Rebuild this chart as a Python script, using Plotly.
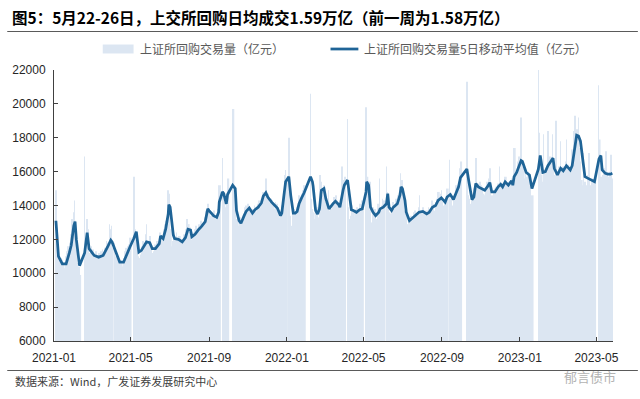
import pandas as pd
import plotly.graph_objects as go

# ---------------- data ----------------
holidays = [
    "2021-01-01", "2021-02-11", "2021-02-12", "2021-02-15", "2021-02-16", "2021-02-17",
    "2021-04-05", "2021-05-03", "2021-05-04", "2021-05-05", "2021-06-14",
    "2021-09-20", "2021-09-21", "2021-10-01", "2021-10-04", "2021-10-05", "2021-10-06", "2021-10-07",
    "2022-01-03", "2022-01-31", "2022-02-01", "2022-02-02", "2022-02-03", "2022-02-04",
    "2022-04-04", "2022-04-05", "2022-05-02", "2022-05-03", "2022-05-04", "2022-06-03",
    "2022-09-12", "2022-10-03", "2022-10-04", "2022-10-05", "2022-10-06", "2022-10-07",
    "2023-01-02", "2023-01-23", "2023-01-24", "2023-01-25", "2023-01-26", "2023-01-27",
    "2023-04-05", "2023-05-01", "2023-05-02", "2023-05-03",
]

# daily volume (亿元), one list per month
vol_2021_01 = [14900, 12000, 11300, 10600, 10900, 10200, 10900, 10400, 10800, 10500,
               10300, 11000, 10700, 11300, 11600, 11800, 11200, 12300, 12100, 13200]
vol_2021_02 = [13600, 14300, 13100, 11400, 10600, 10200, 10400, 9900, 16900, 11800,
               13200, 12600, 10800, 10900, 11200]
vol_2021_03 = [11600, 10900, 11400, 10800, 11100, 11300, 10700, 11000, 10600, 11200,
               10800, 11300, 10900, 11400, 11000, 11500, 11200, 11900, 11400, 11800,
               12900, 11700, 12600]
vol_2021_04 = [12800, 11500, 11800, 11000, 10700, 11100, 10500, 10900, 10300, 10800,
               10600, 10400, 10900, 10700, 11300, 11500, 11100, 11600, 11200, 11700, 12100]
vol_2021_05 = [15700, 12600, 12200, 11600, 10800, 11000, 10900, 11100, 11600, 11300,
               11900, 11500, 11700, 12300, 12900, 11600, 11900, 12200]
vol_2021_06 = [11400, 11000, 11600, 11200, 11300, 11700, 11100, 11500, 11900, 11800,
               12400, 12300, 11900, 12100, 12600, 12200, 12900, 13100, 14200, 14900, 14700]
vol_2021_07 = [13800, 12600, 11600, 11900, 11400, 12300, 12000, 12400, 11800, 12100,
               11700, 12200, 11900, 11500, 12000, 11700, 12300, 12100, 12600, 13200,
               12800, 12900]
vol_2021_08 = [12700, 12200, 11900, 12000, 12400, 12300, 12600, 12100, 12800, 12500,
               12900, 12400, 12800, 13100, 12700, 13000, 12800, 13300, 13100, 13700,
               14100, 14000]
vol_2021_09 = [13800, 13200, 13400, 13100, 13600, 13300, 13700, 13200, 13400, 13100,
               13800, 14300, 15200, 16800, 14700, 14200, 13700, 13900, 14100, 15600]
vol_2021_10 = [19700, 14600, 13900, 12700, 12900, 13200, 12800, 13300, 12600, 13100,
               13000, 13500, 13200, 13900, 13400, 14000]
vol_2021_11 = [14100, 13700, 13900, 13400, 13800, 13500, 13800, 13400, 14000, 13700,
               13600, 14100, 13800, 14300, 13900, 14200, 13900, 14600, 14800, 14500,
               15600, 14900]
vol_2021_12 = [14300, 14700, 14200, 14000, 14400, 13900, 14300, 14100, 13800, 14200,
               13700, 14100, 13600, 13300, 13100, 13700, 13400, 14000, 14700, 15200,
               15800, 16100, 15600]
vol_2022_01 = [18000, 14500, 13400, 12800, 13200, 13700, 13300, 13800, 13600, 13900,
               13500, 14200, 14600, 14300, 14700, 14300, 14900, 14600, 15200]
vol_2022_02 = [20600, 14400, 13800, 13300, 13600, 13200, 13700, 13400, 13900, 13300,
               14100, 15800, 15400, 15300, 14600, 15200]
vol_2022_03 = [14700, 14200, 14000, 14100, 14900, 13500, 13200, 13700, 13800, 14200,
               13900, 14500, 14100, 14600, 14300, 13800, 14200, 13600, 13900, 16300,
               14600, 15200, 15500]
vol_2022_04 = [15700, 19100, 13900, 13200, 13400, 13800, 13500, 14000, 13600, 13300,
               13800, 13500, 13900, 13600, 13700, 14100, 13500, 14000, 14300]
vol_2022_05 = [19800, 15700, 14600, 13200, 15400, 13300, 13000, 13900, 13100, 13500,
               13800, 13200, 13600, 14100, 13400, 15600, 13900, 14000, 14400]
vol_2022_06 = [13800, 14300, 16300, 14800, 14200, 13400, 13600, 13500, 13900, 13700,
               14200, 13800, 14000, 14400, 13900, 14300, 14600, 15100, 15900, 15300, 15500]
vol_2022_07 = [14500, 13700, 13400, 13100, 13500, 12900, 13000, 13300, 12800, 13400,
               13200, 13100, 13600, 13300, 13700, 13500, 13400, 13900, 13600, 14600, 13700]
vol_2022_08 = [13500, 13900, 13600, 13400, 13700, 13300, 13700, 13500, 13900, 13600,
               13800, 14300, 13900, 14100, 13700, 14200, 13900, 14400, 14100, 14800,
               14300, 14700, 14900]
vol_2022_09 = [14200, 14000, 14300, 13900, 14400, 14600, 15000, 16700, 14200, 14400,
               14000, 14300, 14600, 14200, 14900, 15200, 15000, 15400, 15100, 16200, 16600]
vol_2022_10 = [21300, 15100, 14600, 14400, 14100, 14200, 14500, 14000, 14700, 15000,
               16800, 15100, 14900, 15300, 15000, 15400]
vol_2022_11 = [15200, 14800, 15100, 14700, 14600, 15000, 14800, 15300, 15400, 15600,
               16200, 14900, 14500, 14600, 14900, 14500, 15000, 14700, 15100, 15300,
               14900, 16300]
vol_2022_12 = [15400, 15100, 14900, 15300, 15000, 15600, 15700, 15200, 14900, 15400,
               15100, 15300, 15600, 15000, 15300, 15900, 17400, 15800, 16100, 15900,
               16600, 16900]
vol_2023_01 = [19200, 16300, 15900, 16200, 15600, 15900, 15400, 15700, 16000, 15500,
               15800, 14900, 14400, 14600, 22000, 17200]
vol_2023_02 = [18300, 16900, 15800, 15400, 18200, 15300, 15900, 15700, 16100, 18400,
               16000, 16300, 16900, 16500, 18200, 16700, 16100, 15800, 19000, 15900]
vol_2023_03 = [15600, 15900, 16300, 17800, 15700, 16100, 15900, 16300, 16000, 16600,
               17900, 16200, 16400, 15800, 16200, 16000, 16600, 17300, 18400, 19300,
               18700, 18300, 18500]
vol_2023_04 = [19200, 17400, 16600, 15500, 15200, 17100, 15000, 15400, 15200, 15800,
               15300, 17100, 15500, 15200, 15600, 15100, 15400, 15300, 15500]
vol_2023_05 = [21100, 17900, 15700, 15300, 15400, 15800, 16200, 15600, 17200, 15500,
               15900, 15700, 16000, 15600, 17000, 15300, 15600]

# 5-day moving average (亿元)
ma_dates = [
    "2021-01-04", "2021-01-05", "2021-01-08", "2021-01-14", "2021-01-20", "2021-01-25", "2021-01-28",
    "2021-02-01", "2021-02-03", "2021-02-05", "2021-02-10", "2021-02-18", "2021-02-22", "2021-02-25",
    "2021-03-05", "2021-03-12", "2021-03-19", "2021-03-26", "2021-03-31",
    "2021-04-02", "2021-04-09", "2021-04-14", "2021-04-20", "2021-04-26", "2021-04-28", "2021-04-30",
    "2021-05-06", "2021-05-10", "2021-05-14", "2021-05-18", "2021-05-26", "2021-05-31",
    "2021-06-04", "2021-06-09", "2021-06-15", "2021-06-17", "2021-06-21", "2021-06-25", "2021-06-29", "2021-06-30",
    "2021-07-02", "2021-07-07", "2021-07-09", "2021-07-15", "2021-07-21", "2021-07-26", "2021-07-30",
    "2021-08-03", "2021-08-05", "2021-08-10", "2021-08-16", "2021-08-20", "2021-08-26", "2021-08-30",
    "2021-09-01", "2021-09-08", "2021-09-13", "2021-09-16", "2021-09-17", "2021-09-22", "2021-09-24",
    "2021-09-28", "2021-09-30",
    "2021-10-08", "2021-10-12", "2021-10-14", "2021-10-18", "2021-10-21", "2021-10-26", "2021-10-29",
    "2021-11-03", "2021-11-08", "2021-11-12", "2021-11-17", "2021-11-22", "2021-11-25", "2021-11-29",
    "2021-12-02", "2021-12-08", "2021-12-13", "2021-12-17", "2021-12-22", "2021-12-24", "2021-12-27", "2021-12-30",
    "2022-01-04", "2022-01-05", "2022-01-07", "2022-01-11", "2022-01-14", "2022-01-17", "2022-01-20",
    "2022-01-24", "2022-01-28",
    "2022-02-07", "2022-02-10", "2022-02-11", "2022-02-15", "2022-02-18", "2022-02-21", "2022-02-24", "2022-02-28",
    "2022-03-03", "2022-03-08", "2022-03-14", "2022-03-18", "2022-03-23", "2022-03-25", "2022-03-30",
    "2022-04-01", "2022-04-06", "2022-04-08", "2022-04-12", "2022-04-15", "2022-04-20", "2022-04-25", "2022-04-29",
    "2022-05-05", "2022-05-06", "2022-05-09", "2022-05-12", "2022-05-16", "2022-05-20", "2022-05-25", "2022-05-27",
    "2022-06-01", "2022-06-06", "2022-06-08", "2022-06-10", "2022-06-14", "2022-06-17", "2022-06-23",
    "2022-06-27", "2022-06-29",
    "2022-07-01", "2022-07-05", "2022-07-07", "2022-07-12", "2022-07-18", "2022-07-22", "2022-07-27",
    "2022-08-02", "2022-08-08", "2022-08-12", "2022-08-17", "2022-08-22", "2022-08-26", "2022-08-31",
    "2022-09-06", "2022-09-09", "2022-09-14", "2022-09-19", "2022-09-23", "2022-09-27", "2022-09-30",
    "2022-10-10", "2022-10-13", "2022-10-18", "2022-10-21", "2022-10-24", "2022-10-28",
    "2022-11-02", "2022-11-07", "2022-11-11", "2022-11-15", "2022-11-18", "2022-11-23", "2022-11-28",
    "2022-12-02", "2022-12-05", "2022-12-09", "2022-12-14", "2022-12-19", "2022-12-21", "2022-12-23",
    "2022-12-27", "2022-12-30",
    "2023-01-03", "2023-01-05", "2023-01-09", "2023-01-11", "2023-01-16", "2023-01-19", "2023-01-20",
    "2023-01-30",
    "2023-02-02", "2023-02-06", "2023-02-10", "2023-02-14", "2023-02-17", "2023-02-22", "2023-02-24",
    "2023-03-01", "2023-03-06", "2023-03-10", "2023-03-15", "2023-03-21", "2023-03-24", "2023-03-28", "2023-03-31",
    "2023-04-03", "2023-04-06", "2023-04-10", "2023-04-13", "2023-04-18", "2023-04-24", "2023-04-28",
    "2023-05-05", "2023-05-08", "2023-05-10", "2023-05-15", "2023-05-19", "2023-05-23", "2023-05-26",
]
ma_values = [
    13100, 12400, 11000, 10550, 10550, 11200, 11650,
    12800, 13050, 12000, 10450, 11200, 12400, 11450,
    11050, 10950, 11050, 11550, 11950,
    11850, 11150, 10650, 10650, 11250, 11350, 11550,
    12050, 12450, 11250, 11350, 11850, 11800,
    11450, 11450, 11750, 12200, 12050, 12600, 13500, 14050,
    13900, 12250, 12050, 12000, 11850, 12100, 12600,
    12550, 12150, 12300, 12600, 12750, 13050, 13800,
    13700, 13400, 13300, 13600, 14200, 14800, 14700,
    14100, 14650,
    15200, 15000, 13700, 13100, 12950, 13400, 13650,
    13850, 13550, 13750, 13900, 14150, 14550, 14750,
    14500, 14200, 14000, 13850, 13400, 13550, 14500, 15400,
    15700, 15200, 14600, 13550, 13550, 13650, 14100,
    14450, 14750,
    15700, 15400, 15150, 13700, 13500, 13800, 14900, 15000,
    14400, 13800, 14100, 14250, 14050, 13900, 14900,
    15200, 15500, 15000, 13750, 13700, 13600, 13750, 13800,
    14800, 15400, 15200, 13900, 13600, 13400, 13600, 13800,
    13900, 14100, 14700, 13900, 13700, 13900, 14100,
    14600, 15100,
    15000, 14300, 13600, 13100, 13300, 13400, 13600,
    13650, 13500, 13600, 13900, 14000, 14300, 14450,
    14200, 14500, 14650, 14350, 14700, 15100, 15650,
    16150, 15450, 14350, 14500, 15300, 15100,
    15000, 14900, 15100, 15350, 14800, 14800, 15100,
    15250, 15100, 15400, 15200, 15450, 15200, 15700,
    15950, 16300,
    16650, 16600, 16200, 15950, 15800, 15200, 15000,
    16150,
    16950, 15950, 16000, 16350, 16550, 16800, 16200,
    15800, 16200, 16050, 16350, 16100, 16350, 17550, 18150,
    18100, 17800, 16600, 15700, 15600, 15500, 15400,
    16750, 16950, 16100, 15900, 15850, 15850, 15900,
]

x_tick_dates = ["2021-01-01", "2021-05-01", "2021-09-01", "2022-01-01",
                "2022-05-01", "2022-09-01", "2023-01-01", "2023-05-01"]
x_tick_labels = ["2021-01", "2021-05", "2021-09", "2022-01",
                 "2022-05", "2022-09", "2023-01", "2023-05"]
y_ticks = [6000, 8000, 10000, 12000, 14000, 16000, 18000, 20000, 22000]

title_text = "图5：5月22-26日，上交所回购日均成交1.59万亿（前一周为1.58万亿）"
legend_bar = "上证所回购交易量（亿元）"
legend_line = "上证所回购交易量5日移动平均值（亿元）"
source_text = "数据来源：Wind，广发证券发展研究中心"
watermark_text = "郁言债市"

# ---------------- assemble ----------------
monthly_lists = [
    vol_2021_01, vol_2021_02, vol_2021_03, vol_2021_04, vol_2021_05, vol_2021_06,
    vol_2021_07, vol_2021_08, vol_2021_09, vol_2021_10, vol_2021_11, vol_2021_12,
    vol_2022_01, vol_2022_02, vol_2022_03, vol_2022_04, vol_2022_05, vol_2022_06,
    vol_2022_07, vol_2022_08, vol_2022_09, vol_2022_10, vol_2022_11, vol_2022_12,
    vol_2023_01, vol_2023_02, vol_2023_03, vol_2023_04, vol_2023_05,
]
hol = set(pd.to_datetime(holidays))
trade_days = [d for d in pd.bdate_range("2021-01-04", "2023-05-26") if d not in hol]
periods = pd.period_range("2021-01", "2023-05", freq="M")

bar_dates, bar_vals = [], []
for p, lst in zip(periods, monthly_lists):
    md = [d for d in trade_days if d.year == p.year and d.month == p.month]
    assert len(md) == len(lst), (str(p), len(md), len(lst))
    bar_dates += md
    bar_vals += lst

DAY = 86400000
widths, offsets = [], []
for i, d in enumerate(bar_dates):
    if i + 1 < len(bar_dates):
        gap = (bar_dates[i + 1] - d).days
    else:
        gap = 1
    w = min(gap, 3)
    widths.append(w * DAY)
    offsets.append(-0.5 * DAY)

# ---------------- layout geometry ----------------
W, H = 640, 399
ML, MR, MT, MB = 51, 27, 70, 58
PW, PH = W - ML - MR, H - MT - MB

def px_x(px):
    return (px - ML) / PW

def px_y(py):
    return 1 - (py - MT) / PH

BAR_COLOR = "#dce6f2"
LINE_COLOR = "#1f6497"
AX_COLOR = "#404040"
FONT_LAT = "Liberation Sans, Arial, Noto Sans CJK SC"
FONT_CJK = "Noto Sans CJK SC, Liberation Sans"

fig = go.Figure()
fig.add_trace(go.Bar(
    x=bar_dates, y=bar_vals, width=widths, offset=offsets,
    marker=dict(color=BAR_COLOR, line=dict(width=0)),
    name=legend_bar, showlegend=False, hoverinfo="skip",
))
fig.add_trace(go.Scatter(
    x=pd.to_datetime(ma_dates), y=ma_values, mode="lines",
    line=dict(color=LINE_COLOR, width=2.75),
    name=legend_line, showlegend=False, hoverinfo="skip",
))

shapes = [
    # title rule
    dict(type="line", xref="paper", yref="paper", x0=px_x(4), x1=px_x(638),
         y0=px_y(31.5), y1=px_y(31.5), line=dict(color="#5a5a5a", width=1)),
    # bottom rule
    dict(type="line", xref="paper", yref="paper", x0=px_x(4), x1=px_x(638),
         y0=px_y(370.5), y1=px_y(370.5), line=dict(color="#5a5a5a", width=1)),
    # legend patch
    dict(type="rect", xref="paper", yref="paper", x0=px_x(100), x1=px_x(131),
         y0=px_y(53.5), y1=px_y(44.5), fillcolor=BAR_COLOR, line=dict(width=0)),
    # legend line
    dict(type="line", xref="paper", yref="paper", x0=px_x(329), x1=px_x(357),
         y0=px_y(49), y1=px_y(49), line=dict(color=LINE_COLOR, width=2.75)),
]

annotations = [
    dict(text="<b>" + title_text + "</b>", xref="paper", yref="paper",
         x=px_x(7), y=px_y(17), xanchor="left", yanchor="middle", showarrow=False,
         font=dict(family=FONT_CJK, size=15.5, color="#000000")),
    dict(text=legend_bar, xref="paper", yref="paper",
         x=px_x(135), y=px_y(49), xanchor="left", yanchor="middle", showarrow=False,
         font=dict(family=FONT_CJK, size=12, color="#595959")),
    dict(text=legend_line, xref="paper", yref="paper",
         x=px_x(361), y=px_y(49), xanchor="left", yanchor="middle", showarrow=False,
         font=dict(family=FONT_CJK, size=12, color="#595959")),
    dict(text=source_text, xref="paper", yref="paper",
         x=px_x(10), y=px_y(381), xanchor="left", yanchor="middle", showarrow=False,
         font=dict(family=FONT_CJK, size=11, color="#404040")),
    dict(text=watermark_text, xref="paper", yref="paper",
         x=px_x(618), y=px_y(376), xanchor="right", yanchor="middle", showarrow=False,
         font=dict(family=FONT_CJK, size=13, color="#b3b3b3")),
]

fig.update_layout(
    width=W, height=H,
    margin=dict(l=ML, r=MR, t=MT, b=MB, pad=0),
    paper_bgcolor="white", plot_bgcolor="white",
    showlegend=False, hovermode=False,
    shapes=shapes, annotations=annotations,
    font=dict(family=FONT_LAT, size=12, color="#262626"),
)
fig.update_xaxes(
    type="date", range=["2021-01-01", "2023-05-27"],
    tickvals=pd.to_datetime(x_tick_dates), ticktext=x_tick_labels,
    ticks="inside", ticklen=4, tickcolor=AX_COLOR, tickwidth=1,
    showline=True, linecolor=AX_COLOR, linewidth=1,
    showgrid=False, zeroline=False, ticklabelstandoff=6,
    tickfont=dict(family=FONT_LAT, size=12, color="#262626"),
)
fig.update_yaxes(
    range=[6000, 22000], tickvals=y_ticks, tickformat="d",
    ticks="inside", ticklen=4, tickcolor=AX_COLOR, tickwidth=1,
    showline=True, linecolor=AX_COLOR, linewidth=1,
    showgrid=False, zeroline=False, ticklabelstandoff=5,
    tickfont=dict(family=FONT_LAT, size=12, color="#262626"),
)

fig.write_html(
    "out.html",
    config={"displayModeBar": False, "staticPlot": False},
    post_script="document.body.style.margin='0';document.body.style.overflow='hidden';",
)
